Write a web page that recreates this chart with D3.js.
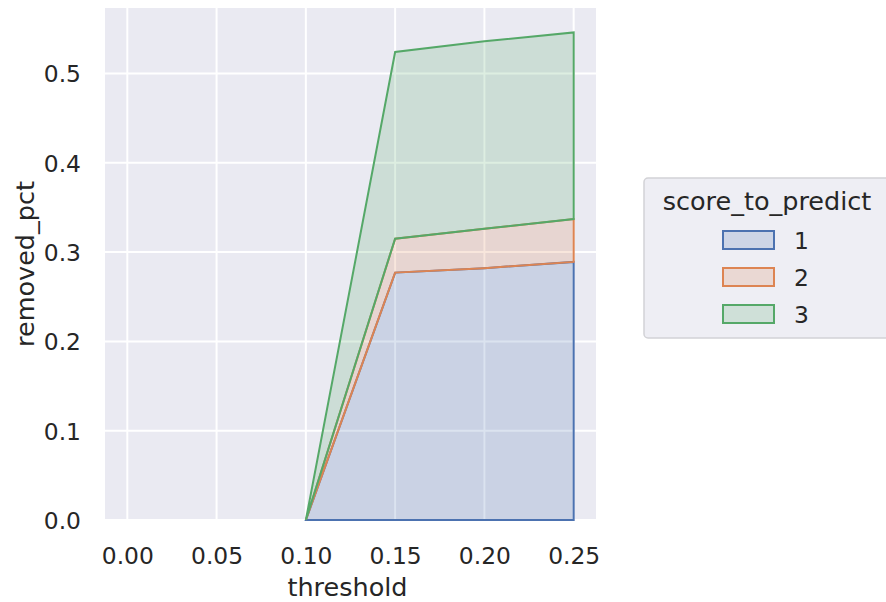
<!DOCTYPE html>
<html>
<head>
<meta charset="utf-8">
<script src="https://cdn.jsdelivr.net/npm/d3@7/dist/d3.min.js"></script>
<style>
  html, body { margin: 0; padding: 0; background: #ffffff; }
  svg { display: block; font-family: "DejaVu Sans", sans-serif; }
</style>
</head>
<body>
<svg id="chart" width="886" height="602"></svg>
<script>
// ---- data ----
const thresholds = [0.10, 0.15, 0.20, 0.25];
const scoreLevels = ["1", "2", "3"];
const removedPct1 = [0, 0.277, 0.282, 0.289];
const removedPct2 = [0, 0.038, 0.044, 0.048];
const removedPct3 = [0, 0.209, 0.210, 0.209];
const xTicks = [0.00, 0.05, 0.10, 0.15, 0.20, 0.25];
const yTicks = [0.0, 0.1, 0.2, 0.3, 0.4, 0.5];
const colors = ["#4c72b0", "#dd8452", "#55a868"];

const seriesValues = [removedPct1, removedPct2, removedPct3];
const table = thresholds.map((t, i) => {
  const row = { threshold: t };
  scoreLevels.forEach((k, j) => row[k] = seriesValues[j][i]);
  return row;
});

const svg = d3.select("#chart");
const plot = { left: 105, right: 596, top: 8, bottom: 520 };

const stack = d3.stack().keys(scoreLevels);
const stacked = stack(table);
const ymax = d3.max(stacked[stacked.length - 1], d => d[1]);

const x = d3.scaleLinear().domain([-0.0125, 0.2625]).range([plot.left, plot.right]);
const y = d3.scaleLinear().domain([0, ymax * 1.05]).range([plot.bottom, plot.top]);

// background
svg.append("rect")
  .attr("x", plot.left).attr("y", plot.top)
  .attr("width", plot.right - plot.left).attr("height", plot.bottom - plot.top)
  .attr("fill", "#eaeaf2");

// grid
const grid = svg.append("g");
grid.selectAll(".gx").data(xTicks).join("line")
  .attr("x1", d => x(d)).attr("x2", d => x(d))
  .attr("y1", plot.top).attr("y2", plot.bottom)
  .attr("stroke", "#ffffff").attr("stroke-width", 2);
grid.selectAll(".gy").data(yTicks).join("line")
  .attr("x1", plot.left).attr("x2", plot.right)
  .attr("y1", d => y(d)).attr("y2", d => y(d))
  .attr("stroke", "#ffffff").attr("stroke-width", 2);

// closed polygon path for each stacked layer (top then bottom reversed)
function outline(layer) {
  const top = layer.map(d => [x(d.data.threshold), y(d[1])]);
  const bot = layer.map(d => [x(d.data.threshold), y(d[0])]).reverse();
  return d3.line()(top.concat(bot)) + "Z";
}

svg.append("g").selectAll("path").data(stacked).join("path")
  .attr("d", d => outline(d))
  .attr("fill", (d, i) => colors[i])
  .attr("fill-opacity", 0.2)
  .attr("stroke", (d, i) => colors[i])
  .attr("stroke-width", 2)
  .attr("stroke-linejoin", "miter");

// axes
const xAxis = d3.axisBottom(x).tickValues(xTicks).tickFormat(d3.format(".2f")).tickSize(0).tickPadding(27);
const gx = svg.append("g").attr("transform", `translate(0,${plot.bottom})`).call(xAxis);
gx.select(".domain").remove();
gx.selectAll("text").attr("font-size", 23.4).attr("fill", "#262626").attr("font-family", "DejaVu Sans");

const yAxis = d3.axisLeft(y).tickValues(yTicks).tickFormat(d3.format(".1f")).tickSize(0).tickPadding(24);
const gy = svg.append("g").attr("transform", `translate(${plot.left},0)`).call(yAxis);
gy.select(".domain").remove();
gy.selectAll("text").attr("font-size", 23.4).attr("fill", "#262626").attr("font-family", "DejaVu Sans").attr("dy", "0.36em");

// axis labels
svg.append("text")
  .attr("x", (plot.left + plot.right) / 2 - 3).attr("y", 596)
  .attr("text-anchor", "middle").attr("font-size", 25.5).attr("fill", "#262626")
  .text("threshold");
svg.append("text")
  .attr("transform", `translate(34,${(plot.top + plot.bottom) / 2}) rotate(-90)`)
  .attr("text-anchor", "middle").attr("font-size", 25.5).attr("fill", "#262626")
  .text("removed_pct");

// legend
const lg = svg.append("g");
lg.append("rect")
  .attr("x", 644).attr("y", 178).attr("width", 250).attr("height", 160)
  .attr("rx", 4).attr("fill", "#eeeef4").attr("stroke", "#d2d2d6").attr("stroke-width", 1.5);
lg.append("text")
  .attr("x", 767).attr("y", 210).attr("text-anchor", "middle")
  .attr("font-size", 25.5).attr("fill", "#262626").text("score_to_predict");
const entries = lg.selectAll(".entry").data(scoreLevels).join("g")
  .attr("transform", (d, i) => `translate(0,${240 + i * 37})`);
entries.append("rect")
  .attr("x", 723).attr("y", -9).attr("width", 51).attr("height", 18)
  .attr("fill", (d, i) => colors[i]).attr("fill-opacity", 0.2)
  .attr("stroke", (d, i) => colors[i]).attr("stroke-width", 2);
entries.append("text")
  .attr("x", 794).attr("y", 9)
  .attr("font-size", 23.4).attr("fill", "#262626").text(d => d);
</script>
</body>
</html>
